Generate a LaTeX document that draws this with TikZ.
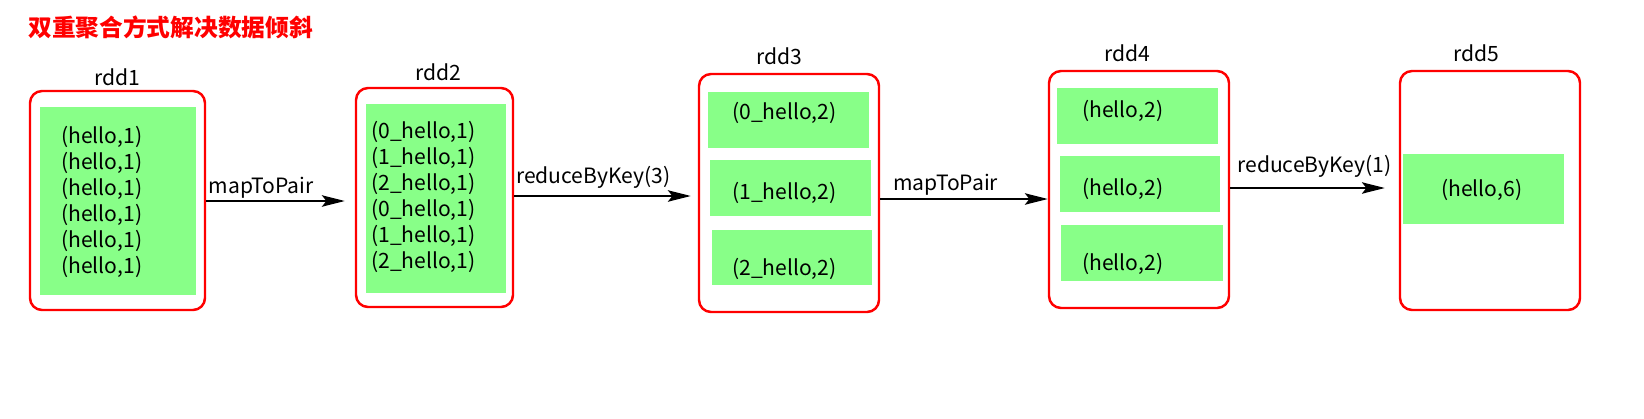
\documentclass[tikz,border=0pt]{standalone}
\usepackage{fontspec}
\setmainfont{Noto Sans CJK SC}
\usetikzlibrary{fit,arrows.meta}
\definecolor{partgreen}{RGB}{136,255,136}

\begin{document}
\begin{tikzpicture}[x=0.02cm, y=-0.02cm,
  rddbox/.style={draw=red, line width=1.4pt, rounded corners=2.4mm, inner sep=0pt},
  part/.style={fill=partgreen, inner sep=0pt},
  item/.style={font=\fontsize{12}{14.8}\selectfont, anchor=west, inner sep=0pt, align=left},
  rddname/.style={font=\fontsize{12}{14}\selectfont, inner sep=0pt},
  flow/.style={-{Stealth[length=13pt,width=6.5pt,inset=2.5pt]}, line width=1.1pt},
  oplabel/.style={font=\fontsize{12}{14}\selectfont, inner sep=0pt}]

\useasboundingbox (0,0) rectangle (1644,419);

\node[anchor=west, text=red, inner sep=0pt, font=\fontsize{13.5}{16}\selectfont\bfseries] (title) at (28,27) {双重聚合方式解决数据倾斜};

% rdd1
\node[rddbox, fit={(30,91) (205,310)}] (rdd1) {};
\node[part, fit={(40,107) (196,295)}] (p1) {};
\node[item] (t1) at (61,201.5) {(hello,1)\\(hello,1)\\(hello,1)\\(hello,1)\\(hello,1)\\(hello,1)};
\node[rddname] (n1) at (117,77) {rdd1};

% rdd2
\node[rddbox, fit={(356,88) (513,307)}] (rdd2) {};
\node[part, fit={(366,104) (506,293)}] (p2) {};
\node[item] (t2) at (371,197) {(0\_hello,1)\\(1\_hello,1)\\(2\_hello,1)\\(0\_hello,1)\\(1\_hello,1)\\(2\_hello,1)};
\node[rddname] (n2) at (438,72) {rdd2};

% rdd3
\node[rddbox, fit={(699,74) (879,312)}] (rdd3) {};
\node[part, fit={(708,92) (869,148)}] (p31) {};
\node[part, fit={(710,160) (871,216)}] (p32) {};
\node[part, fit={(712,230) (872,285)}] (p33) {};
\node[item] (t31) at (732,113) {(0\_hello,2)};
\node[item] (t32) at (732,193) {(1\_hello,2)};
\node[item] (t33) at (732,269) {(2\_hello,2)};
\node[rddname] (n3) at (779,56) {rdd3};

% rdd4
\node[rddbox, fit={(1049,71) (1229,308)}] (rdd4) {};
\node[part, fit={(1057,88) (1218,144)}] (p41) {};
\node[part, fit={(1060,156) (1220,212)}] (p42) {};
\node[part, fit={(1061,225) (1223,281)}] (p43) {};
\node[item] (t41) at (1082,111) {(hello,2)};
\node[item] (t42) at (1082,189) {(hello,2)};
\node[item] (t43) at (1082,264) {(hello,2)};
\node[rddname] (n4) at (1127,53) {rdd4};

% rdd5
\node[rddbox, fit={(1400,71) (1580,310)}] (rdd5) {};
\node[part, fit={(1403,154) (1564,224)}] (p5) {};
\node[item] (t5) at (1441,190) {(hello,6)};
\node[rddname] (n5) at (1476,53) {rdd5};

% operators
\draw[flow, shorten >=2mm] (rdd1.east |- 0,201) -- node[oplabel, pos=0.37, above=1pt] {mapToPair} (rdd2.west |- 0,201);
\draw[flow, shorten >=1.4mm] (rdd2.east |- 0,196) -- node[oplabel, pos=0.43, above=3.6pt] {reduceByKey(3)} (rdd3.west |- 0,196);
\draw[flow] (rdd3.east |- 0,199) -- node[oplabel, pos=0.39, above=1.4pt] {mapToPair} (rdd4.west |- 0,199);
\draw[flow, shorten >=2.8mm] (rdd4.east |- 0,188) -- node[oplabel, pos=0.5, above=5.5pt] {reduceByKey(1)} (rdd5.west |- 0,188);

\end{tikzpicture}
\end{document}
